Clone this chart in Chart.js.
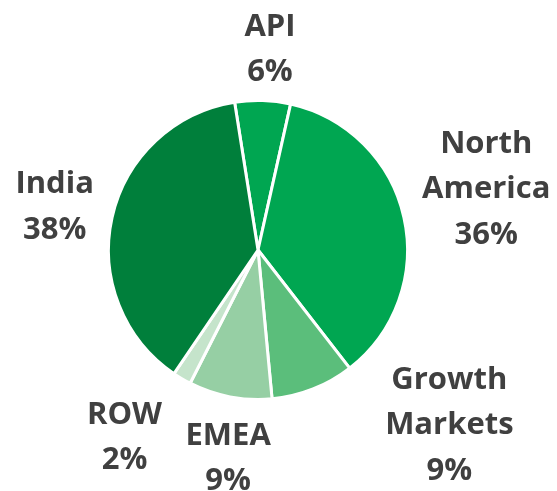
<!DOCTYPE html>
<html>
<head>
<meta charset="utf-8">
<script src="https://cdn.jsdelivr.net/npm/chart.js@4/dist/chart.umd.min.js"></script>
<style>
  html, body { margin: 0; padding: 0; background: #fff; }
  canvas { display: block; }
</style>
</head>
<body>
<canvas id="chartPie" width="557" height="491"></canvas>
<script>
// data
const regions = ["API", "North America", "Growth Markets", "EMEA", "ROW", "India"];
const shares = [6, 36, 9, 9, 2, 38];
const labelLines = [
  ["API", "6%"],
  ["North", "America", "36%"],
  ["Growth", "Markets", "9%"],
  ["EMEA", "9%"],
  ["ROW", "2%"],
  ["India", "38%"]
];
const sliceColors = ["#00A651", "#00A651", "#5BBE7B", "#96CFA4", "#C5E4CB", "#007F3B"];

// where each label sits, in units of the pie radius from the centre
const labelOffsets = [
  [0.08, -1.353],
  [1.527, -0.42],
  [1.28, 1.16],
  [-0.2, 1.38],
  [-0.893, 1.24],
  [-1.36, -0.3]
];

const labelPlugin = {
  id: "outerLabels",
  afterDraw(chart) {
    const ctx = chart.ctx;
    const arcs = chart.getDatasetMeta(0).data;
    ctx.save();
    ctx.font = "bold 31px 'Open Sans'";
    ctx.fillStyle = "#404040";
    ctx.textAlign = "center";
    ctx.textBaseline = "alphabetic";
    arcs.forEach((arc, i) => {
      const r = arc.outerRadius;
      const cx = arc.x + labelOffsets[i][0] * r;
      const cy = arc.y + labelOffsets[i][1] * r;
      const lines = labelLines[i];
      const lh = 45.5;
      const top = cy - (lines.length - 1) * lh / 2;
      lines.forEach((t, j) => {
        ctx.fillText(t, cx, top + j * lh + 11);
      });
    });
    ctx.restore();
  }
};

new Chart(document.getElementById("chartPie").getContext("2d"), {
  type: "pie",
  data: {
    labels: regions,
    datasets: [{
      data: shares,
      backgroundColor: sliceColors,
      borderColor: "#ffffff",
      borderWidth: 3
    }]
  },
  options: {
    responsive: false,
    animation: false,
    rotation: -9,
    layout: { padding: { left: 107, right: 148, top: 99, bottom: 90 } },
    plugins: {
      legend: { display: false },
      tooltip: { enabled: false }
    }
  },
  plugins: [labelPlugin]
});
</script>
</body>
</html>
